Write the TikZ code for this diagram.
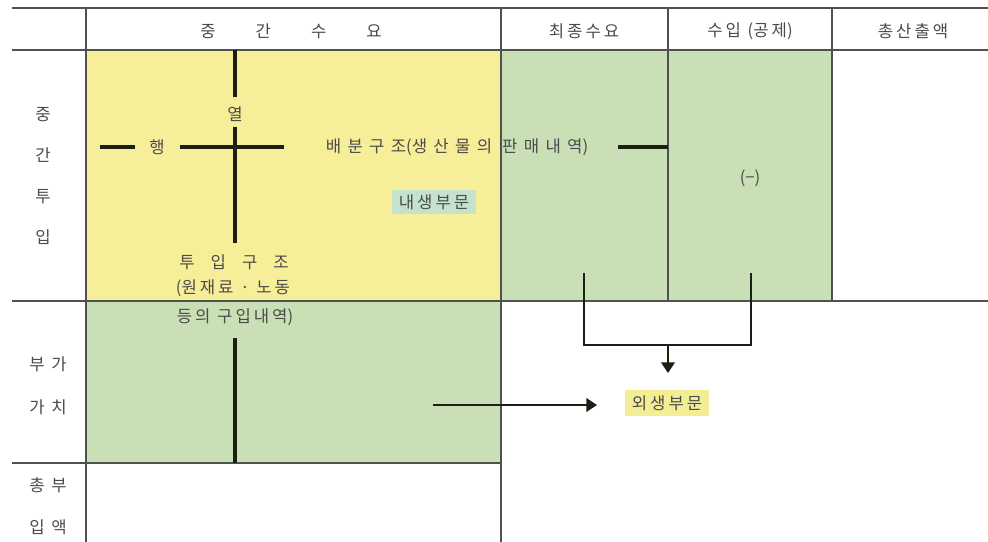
\documentclass[tikz,border=0pt]{standalone}
\usepackage{fontspec}
\newfontfamily\kr{Noto Sans CJK KR}
\newfontfamily\krs[LetterSpace=18]{Noto Sans CJK KR}
\newfontfamily\krw[LetterSpace=38]{Noto Sans CJK KR}
\usetikzlibrary{arrows.meta}
\definecolor{ylw}{RGB}{246,238,152}
\definecolor{ylwlbl}{RGB}{243,238,150}
\definecolor{grn}{RGB}{201,223,182}
\definecolor{tealbg}{RGB}{196,226,204}
\definecolor{gridc}{RGB}{80,80,80}
\definecolor{txt}{RGB}{75,75,75}
\definecolor{ink}{RGB}{28,32,20}
\begin{document}
\begin{tikzpicture}[x=0.75pt,y=-0.75pt,
  gridln/.style={draw=gridc,line width=1.2pt},
  thk/.style={draw=ink,line width=2.4pt},
  brk/.style={draw=ink,line width=2pt},
  arr/.style={draw=ink,line width=2pt,-{Triangle[length=8pt,width=10pt]}},
  lbl/.style={font=\krs\fontsize{12.5}{14}\selectfont,text=txt,inner sep=1pt},
]
\useasboundingbox (0,0) rectangle (988,542);
\fill[white] (0,0) rectangle (988,542);
% fills
\fill[ylw] (86,50) rectangle (501,301);
\fill[grn] (501,50) rectangle (832,301);
\fill[grn] (86,301) rectangle (501,463);
% grid
\draw[gridln] (12,8) -- (988,8);
\draw[gridln] (12,50) -- (988,50);
\draw[gridln] (12,301) -- (988,301);
\draw[gridln] (12,463) -- (501,463);
\draw[gridln] (86,8) -- (86,542);
\draw[gridln] (501,8) -- (501,542);
\draw[gridln] (668,8) -- (668,301);
\draw[gridln] (832,8) -- (832,301);
% headers
\node[lbl] (h1) at (291,31) {\kr 중\hspace{30pt}간\hspace{30pt}수\hspace{30pt}요};
\node[lbl] (h2) at (584,31) {최종수요};
\node[lbl] (h3) at (750,31) {수입 {\kr(}공제{\kr)}};
\node[lbl] (h4) at (913,31) {총산출액};
% side labels
\node[lbl,align=center,font=\kr\fontsize{12.5}{30.75}\selectfont] (s1) at (43,176) {중\\간\\투\\입};
\node[lbl,align=center,font=\krs\fontsize{12.5}{32.25}\selectfont] (s2) at (48,386) {부 가\\가 치};
\node[lbl,align=center,font=\krs\fontsize{12.5}{31.5}\selectfont] (s3) at (48,506) {총 부\\입 액};
% cross
\coordinate (vt) at (235,50);
\coordinate (vm) at (235,97);
\node[lbl] (yeol) at (235,114) {열};
\coordinate (vb1) at (235,127);
\coordinate (vb2) at (235,243);
\draw[thk] (vt) -- (vm);
\draw[thk] (vb1) -- (vb2);
\coordinate (hl1) at (100,147);
\coordinate (hl2) at (135,147);
\node[lbl] (haeng) at (157,147) {행};
\coordinate (hr1) at (180,147);
\coordinate (hr2) at (284,147);
\draw[thk] (hl1) -- (hl2);
\draw[thk] (hr1) -- (hr2);
\node[lbl,font=\krw\fontsize{12.5}{14}\selectfont] (baebun) at (457,147) {배분구조{\kr(}생산물의 판매내역{\kr)}};
\coordinate (br1) at (618,147);
\coordinate (br2) at (668,147);
\draw[thk] (br1) -- (br2);
\node[lbl,fill=tealbg,inner xsep=5pt,inner ysep=3pt] (naesaeng) at (434,202) {내생부문};
% input structure
\node[lbl,font=\kr\fontsize{12.5}{14}\selectfont] (tuip) at (234,262) {투\hspace{12pt}입\hspace{12pt}구\hspace{12pt}조};
\node[lbl] (won) at (233,288) {{\kr(}원재료 · 노동};
\node[lbl] (deung) at (235,317) {등의 구입내역{\kr)}};
\coordinate (vl1) at (235,338);
\coordinate (vl2) at (235,463);
\draw[thk] (vl1) -- (vl2);
% imports
\node[lbl,font=\kr\fontsize{12.5}{14}\selectfont] (minus) at (750,178) {(−)};
% exogenous
\node[lbl,fill=ylwlbl,inner xsep=5pt,inner ysep=4pt] (oesaeng) at (667,403) {외생부문};
\coordinate (a1) at (433,405);
\coordinate (a2) at (597,405);
\draw[arr] (a1) -- (a2);
\coordinate (k1) at (584,273);
\coordinate (k2) at (751,273);
\coordinate (kmid) at (668,345);
\coordinate (kdown) at (668,373);
\draw[brk] (k1) |- (kmid) -| (k2);
\draw[arr] (kmid) -- (kdown);
\end{tikzpicture}
\end{document}
